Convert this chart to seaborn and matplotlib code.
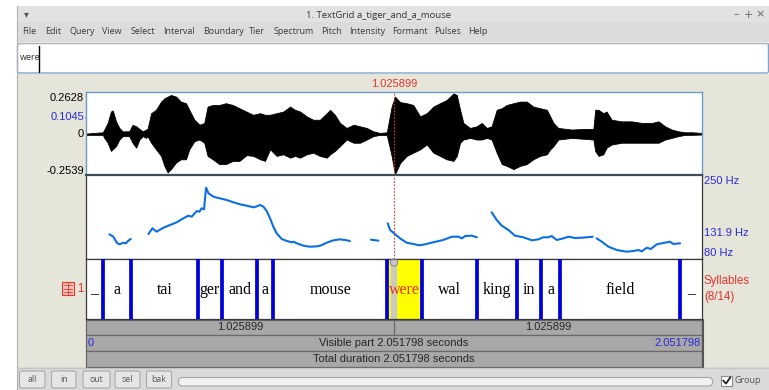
import numpy as np
import pandas as pd
import matplotlib
matplotlib.use("Agg")
import matplotlib.pyplot as plt
import seaborn as sns
from matplotlib.patches import Rectangle, FancyBboxPatch, Circle

sns.set_theme(style="white")
plt.rcParams['font.family'] = ['Liberation Sans', 'DejaVu Sans']

W, H = 769, 390
DUR = 2.051798
CURSOR = 1.025899

# ---- TextGrid tier "Syllables" ----
bounds = [0.0566, 0.150, 0.373, 0.453, 0.570, 0.623, 1.003, 1.119,
          1.302, 1.436, 1.516, 1.579, 1.978]
syllables = ["_", "a", "tai", "ger", "and", "a", "mouse", "were",
             "wal", "king", "in", "a", "field", "_"]
selected = 7

# ---- waveform amplitude envelope (time s, upper, lower) ----
wave_t = [0.000, 0.056, 0.061, 0.072, 0.083, 0.089, 0.100, 0.111, 0.122, 0.144,
          0.155, 0.167, 0.178, 0.189, 0.200, 0.205, 0.217, 0.233, 0.250, 0.261,
          0.272, 0.283, 0.300, 0.316, 0.333, 0.344, 0.361, 0.378, 0.394, 0.405,
          0.422, 0.444, 0.466, 0.489, 0.511, 0.535, 0.557, 0.580, 0.596, 0.613,
          0.635, 0.657, 0.680, 0.696, 0.713, 0.735, 0.757, 0.779, 0.802, 0.813,
          0.829, 0.846, 0.868, 0.891, 0.913, 0.935, 0.957, 0.979, 1.002, 1.018,
          1.029, 1.046, 1.068, 1.090, 1.113, 1.135, 1.157, 1.179, 1.201, 1.224,
          1.235, 1.246, 1.257, 1.279, 1.301, 1.318, 1.335, 1.351, 1.368, 1.385,
          1.401, 1.424, 1.446, 1.468, 1.490, 1.512, 1.535, 1.546, 1.557, 1.573,
          1.618, 1.662, 1.690, 1.696, 1.707, 1.723, 1.734, 1.751, 1.784, 1.818,
          1.851, 1.884, 1.907, 1.929, 1.951, 1.973, 1.995, 2.018, 2.051]
wave_hi = [0.004, 0.012, 0.029, 0.070, 0.141, 0.148, 0.080, 0.039, 0.018, 0.018,
           0.059, 0.049, 0.033, 0.018, 0.029, 0.033, 0.131, 0.152, 0.203, 0.223,
           0.234, 0.244, 0.234, 0.203, 0.193, 0.152, 0.090, 0.059, 0.070, 0.172,
           0.182, 0.182, 0.193, 0.182, 0.162, 0.140, 0.121, 0.131, 0.121, 0.121,
           0.131, 0.141, 0.172, 0.152, 0.141, 0.111, 0.090, 0.090, 0.131, 0.152,
           0.121, 0.070, 0.039, 0.059, 0.049, 0.039, 0.018, 0.008, 0.012, 0.172,
           0.234, 0.200, 0.193, 0.182, 0.111, 0.131, 0.172, 0.193, 0.213, 0.254,
           0.244, 0.152, 0.070, 0.039, 0.049, 0.070, 0.039, 0.049, 0.152, 0.162,
           0.182, 0.193, 0.203, 0.203, 0.172, 0.162, 0.152, 0.111, 0.070, 0.039,
           0.029, 0.033, 0.033, 0.152, 0.152, 0.131, 0.141, 0.090, 0.080, 0.080,
           0.070, 0.070, 0.080, 0.049, 0.029, 0.018, 0.012, 0.012, 0.008]
wave_lo = [-0.004, -0.004, -0.023, -0.053, -0.104, -0.094, -0.074, -0.033, -0.012, -0.012,
           -0.053, -0.084, -0.033, -0.012, -0.023, -0.012, -0.053, -0.094, -0.135, -0.197,
           -0.238, -0.217, -0.176, -0.156, -0.156, -0.094, -0.043, -0.033, -0.053, -0.135,
           -0.156, -0.186, -0.186, -0.166, -0.166, -0.130, -0.135, -0.156, -0.166, -0.094,
           -0.135, -0.125, -0.146, -0.135, -0.146, -0.125, -0.115, -0.135, -0.146, -0.125,
           -0.104, -0.074, -0.033, -0.053, -0.053, -0.033, -0.012, -0.004, -0.006, -0.135,
           -0.250, -0.180, -0.135, -0.115, -0.094, -0.064, -0.115, -0.135, -0.156, -0.166,
           -0.135, -0.053, -0.033, -0.023, -0.033, -0.033, -0.023, -0.033, -0.115, -0.186,
           -0.197, -0.217, -0.197, -0.186, -0.156, -0.135, -0.125, -0.094, -0.074, -0.033,
           -0.023, -0.029, -0.033, -0.104, -0.135, -0.125, -0.084, -0.064, -0.053, -0.053,
           -0.053, -0.053, -0.053, -0.033, -0.023, -0.012, -0.004, -0.004, -0.002]
wave_top, wave_mark, wave_bottom = 0.2628, 0.1045, -0.2539

# ---- pitch contour (time s, Hz), voiced runs numbered ----
pitch_t = [0.078, 0.091, 0.104, 0.113, 0.124, 0.133, 0.141, 0.149,
           0.208, 0.221, 0.235, 0.258, 0.280, 0.302, 0.324, 0.341, 0.352, 0.369,
           0.378, 0.385, 0.393, 0.400, 0.408, 0.424, 0.446, 0.469, 0.491, 0.513,
           0.535, 0.558, 0.569, 0.580, 0.591, 0.602, 0.613, 0.624, 0.635, 0.652,
           0.669, 0.685, 0.691, 0.702, 0.724, 0.746, 0.769, 0.780, 0.802, 0.824,
           0.846, 0.863, 0.879,
           0.949, 0.974,
           1.005, 1.013, 1.026, 1.046, 1.068, 1.090, 1.110, 1.129, 1.157, 1.190,
           1.218, 1.240, 1.252, 1.263, 1.285, 1.302,
           1.351, 1.368, 1.385, 1.407, 1.429, 1.457, 1.485, 1.507, 1.523, 1.540,
           1.551, 1.568, 1.590, 1.607, 1.629, 1.651, 1.668, 1.688,
           1.701, 1.718, 1.740, 1.768, 1.801, 1.823, 1.840, 1.851, 1.868, 1.881,
           1.901, 1.923, 1.945, 1.956, 1.979]
pitch_hz = [130.0, 125.1, 111.8, 109.8, 113.0, 111.8, 117.0, 120.5,
            130.6, 142.1, 135.3, 143.4, 148.8, 154.2, 162.3, 167.7, 165.6, 177.1,
            175.8, 182.6, 180.5, 224.3, 212.9, 206.2, 202.8, 199.4, 194.7, 190.7,
            187.9, 184.6, 186.6, 189.3, 185.9, 177.1, 162.3, 145.4, 132.0, 120.5,
            116.4, 113.8, 115.0, 111.8, 106.9, 104.9, 105.6, 106.9, 113.0, 117.8,
            119.8, 118.5, 116.4,
            119.1, 117.1,
            152.2, 138.7, 132.0, 121.8, 113.0, 110.4, 107.7, 109.7, 113.8, 118.5,
            125.1, 125.1, 121.8, 126.5, 127.2, 123.9,
            174.5, 158.9, 147.4, 138.7, 127.2, 123.9, 117.8, 119.8, 123.9, 124.0,
            126.5, 118.5, 121.8, 125.1, 122.5, 123.1, 123.9, 125.1,
            121.8, 115.0, 104.9, 98.2, 94.8, 96.2, 98.2, 95.5, 102.9, 100.2,
            109.7, 112.4, 115.0, 110.4, 111.8]
pitch_run = [1] * 8 + [2] * 43 + [3] * 2 + [4] * 16 + [5] * 18 + [6] * 15
pitch_floor, pitch_mean, pitch_ceiling = 80, 131.9, 250

RED = '#e8342b'
BLUE = '#2a2ad6'
UI_FONT = ['Open Sans', 'DejaVu Sans']

fig = plt.figure(figsize=(W / 100, H / 100), dpi=100)
fig.patch.set_facecolor('white')

# pixel-space canvas for the window chrome
ui = fig.add_axes([0, 0, 1, 1])
ui.set_xlim(0, W)
ui.set_ylim(H, 0)
ui.axis('off')


def rect(x0, y0, x1, y1, **kw):
    ui.add_patch(Rectangle((x0, y0), x1 - x0, y1 - y0, **kw))


def px_axes(x0, y0, x1, y1):
    return fig.add_axes([x0 / W, 1 - y1 / H, (x1 - x0) / W, (y1 - y0) / H])


# window frame, title bar, menu bar
rect(17, 6, W, 22, fc='#e2e2e2', ec='none')
rect(17, 22, W, 42, fc='#dcdcdc', ec='none')
ui.plot([17, W], [42.5, 42.5], color='#b5b5b5', lw=0.8)
ui.plot([17, 17], [6, H], color='#b0b0b0', lw=0.8)
ui.text(26, 14.5, '▾', ha='center', va='center', fontsize=7, color='#555', family='DejaVu Sans')
ui.text(379, 15, '1. TextGrid a_tiger_and_a_mouse', ha='center', va='center',
        fontsize=6.8, color='#333', family=UI_FONT)
for xx, s in [(736, '–'), (748, '+'), (760, '×')]:
    ui.text(xx, 14.5, s, ha='center', va='center', fontsize=8, color='#666', family='DejaVu Sans')

menu_items = ['File', 'Edit', 'Query', 'View', 'Select', 'Interval', 'Boundary', 'Tier',
              'Spectrum', 'Pitch', 'Intensity', 'Formant', 'Pulses', 'Help']
menu_x = [22, 45, 69, 102.5, 130.5, 163, 203, 249, 274, 321, 349, 392, 434, 468]
for xx, s in zip(menu_x, menu_items):
    ui.text(xx, 32, s, ha='left', va='center', fontsize=6.5, color='#3a3a3a', family=UI_FONT)

# text entry field
ui.add_patch(FancyBboxPatch((17.5, 43.5), W - 18, 29.5, boxstyle='round,pad=0,rounding_size=2',
                            fc='white', ec='#7ea4d1', lw=1))
ui.text(19.5, 58, syllables[selected], ha='left', va='center', fontsize=6.5, color='#333',
        family=UI_FONT)
ui.plot([38.5, 38.5], [46, 71.5], color='black', lw=1)

# editor background and bottom button bar
rect(17, 74, W, 367, fc='#e5e5da', ec='none')
rect(17, 367, W, H, fc='#dadada', ec='none')
ui.plot([17, W], [367.5, 367.5], color='#c4c4c4', lw=0.8)

# cursor time on top
x_of = lambda t: 86 + t / DUR * 616
ui.text(x_of(CURSOR), 84, f'{CURSOR:.6f}', ha='center', va='center', fontsize=8, color=RED)

# ---- waveform ----
wax = px_axes(86, 92, 702, 175)
wax.fill_between(wave_t, wave_lo, wave_hi, color='black', lw=0.6)
wax.axhline(0, color='black', lw=0.5)
wax.set_xlim(0, DUR)
wax.set_ylim(wave_bottom, wave_top)
wax.axvline(CURSOR, color=RED, lw=0.8, ls=(0, (1.5, 1.5)))
wax.set_xticks([]); wax.set_yticks([])
for sp in wax.spines.values():
    sp.set_color('#6c9ccb'); sp.set_linewidth(1)
wax.set_facecolor('white')

y_wave = lambda a: 92 + (wave_top - a) / (wave_top - wave_bottom) * 83
ui.text(84, 93, f'{wave_top:.4f}', ha='right', va='top', fontsize=8, color='black')
ui.text(84, y_wave(wave_mark), f'{wave_mark:.4f}', ha='right', va='center', fontsize=8, color=BLUE)
ui.plot([85, 92], [y_wave(wave_mark)] * 2, color='#7cc0ea', lw=1, zorder=5, clip_on=False)
ui.text(84, y_wave(0), '0', ha='right', va='center', fontsize=8, color='black')
ui.text(84, 175.5, f'{wave_bottom:.4f}', ha='right', va='bottom', fontsize=8, color='black')

# ---- pitch ----
pax = px_axes(86, 175, 702, 259)
pitch_df = pd.DataFrame({'time': pitch_t, 'f0': pitch_hz, 'run': pitch_run})
sns.lineplot(data=pitch_df, x='time', y='f0', units='run', estimator=None,
             color='#0a6fe0', lw=1.5, ax=pax, legend=False)
pax.set_xlim(0, DUR)
pax.set_ylim(pitch_floor, pitch_ceiling)
pax.axvline(CURSOR, color=RED, lw=0.8, ls=(0, (1.5, 1.5)))
pax.set_xticks([]); pax.set_yticks([])
pax.set_xlabel(''); pax.set_ylabel('')
for sp in pax.spines.values():
    sp.set_color('#3a3a3a'); sp.set_linewidth(0.9)
pax.spines['top'].set_color('#3c4c58'); pax.spines['top'].set_linewidth(1.6)

y_pitch = lambda f: 259 - (f - pitch_floor) / (pitch_ceiling - pitch_floor) * 84
ui.text(704, 176, f'{pitch_ceiling} Hz', ha='left', va='top', fontsize=8, color=BLUE)
ui.text(704, y_pitch(pitch_mean), f'{pitch_mean} Hz', ha='left', va='center', fontsize=8, color=BLUE)
ui.text(704, 258.5, f'{pitch_floor} Hz', ha='left', va='bottom', fontsize=8, color=BLUE)

# ---- interval tier ----
tax = px_axes(86, 259, 702, 319)
edges = [0.0] + bounds + [DUR]
tax.axvspan(edges[selected], edges[selected + 1], color='#ffff00', lw=0)
tax.axvline(CURSOR, color='#c9c9c9', lw=4.5, zorder=2)
for b in bounds:
    tax.axvline(b, color='#0000dc', lw=2.7, zorder=3)
for i, s in enumerate(syllables):
    mid = (edges[i] + edges[i + 1]) / 2
    tax.text(mid, 0.425, s, ha='center', va='baseline', fontsize=11.5,
             family='Liberation Serif', color=RED if i == selected else 'black', zorder=4)
tax.set_xlim(0, DUR); tax.set_ylim(0, 1)
tax.set_xticks([]); tax.set_yticks([])
for sp in tax.spines.values():
    sp.set_color('#3a3a3a'); sp.set_linewidth(0.9)
tax.add_patch(Circle((x_of(CURSOR), 262.5), 3.6, transform=ui.transData, fill=False,
                     ec='#8a8aa8', lw=0.8, clip_on=False, zorder=5))

ui.text(704, 281, 'Syllables', ha='left', va='center', fontsize=8.3, color=RED)
ui.text(704, 297, f'({selected + 1}/{len(syllables)})', ha='left', va='center', fontsize=8.3, color=RED)
ui.add_patch(Rectangle((62, 282), 12, 13, fc='#f7c2ba', ec=RED, lw=0.8))
for yy in (285, 288.5, 292):
    ui.plot([64, 72], [yy, yy], color=RED, lw=0.6)
ui.plot([68, 68], [283, 294], color=RED, lw=0.6)
ui.text(80, 288.5, '1', ha='center', va='center', fontsize=8.3, color=RED)

# ---- time bars ----
BAR = '#a8a8a8'
rect(86, 319.5, 702, 335, fc=BAR, ec='#6a6a6a', lw=0.9)
rect(86, 335, 702, 351, fc=BAR, ec='#6a6a6a', lw=0.9)
rect(86, 351, 702, 367, fc=BAR, ec='#6a6a6a', lw=0.9)
ui.plot([x_of(CURSOR)] * 2, [319.5, 335], color='#6a6a6a', lw=0.9)
ui.plot([702.5, 702.5], [319.5, 367], color='#555', lw=1.5)
ui.text((86 + x_of(CURSOR)) / 2, 327.5, f'{CURSOR:.6f}', ha='center', va='center', fontsize=8)
ui.text((702 + x_of(CURSOR)) / 2, 327.5, f'{DUR - CURSOR:.6f}', ha='center', va='center', fontsize=8)
ui.text(88, 343, '0', ha='left', va='center', fontsize=8, color=BLUE)
ui.text(394, 343, f'Visible part {DUR:.6f} seconds', ha='center', va='center', fontsize=8)
ui.text(701, 343, f'{DUR:.6f}', ha='right', va='center', fontsize=8, color=BLUE)
ui.text(394, 359, f'Total duration {DUR:.6f} seconds', ha='center', va='center', fontsize=8)

# ---- bottom buttons ----
for (x0, x1), s in zip([(19.5, 45), (51.5, 76), (83, 110), (115, 140), (146.5, 171.5)],
                       ['all', 'in', 'out', 'sel', 'bak']):
    ui.add_patch(FancyBboxPatch((x0, 371), x1 - x0, 17, boxstyle='round,pad=0,rounding_size=2',
                                fc='#e6e6e6', ec='#a8a8a8', lw=0.8))
    ui.text((x0 + x1) / 2, 379.5, s, ha='center', va='center', fontsize=6.3, color='#555',
            family=UI_FONT)
ui.add_patch(FancyBboxPatch((178.5, 377.5), 534, 8.5, boxstyle='round,pad=0,rounding_size=4',
                            fc='#f2f2f2', ec='#a5a5a5', lw=0.8))
ui.add_patch(Rectangle((721, 375.5), 11, 10.5, fc='white', ec='#8a8a8a', lw=0.8))
ui.plot([723.2, 726, 730.3], [380.5, 383.6, 377.5], color='#222', lw=1.3)
ui.text(734.5, 380.5, 'Group', ha='left', va='center', fontsize=6.5, color='#555', family=UI_FONT)

fig.savefig('out.png', dpi=100, facecolor='white')
